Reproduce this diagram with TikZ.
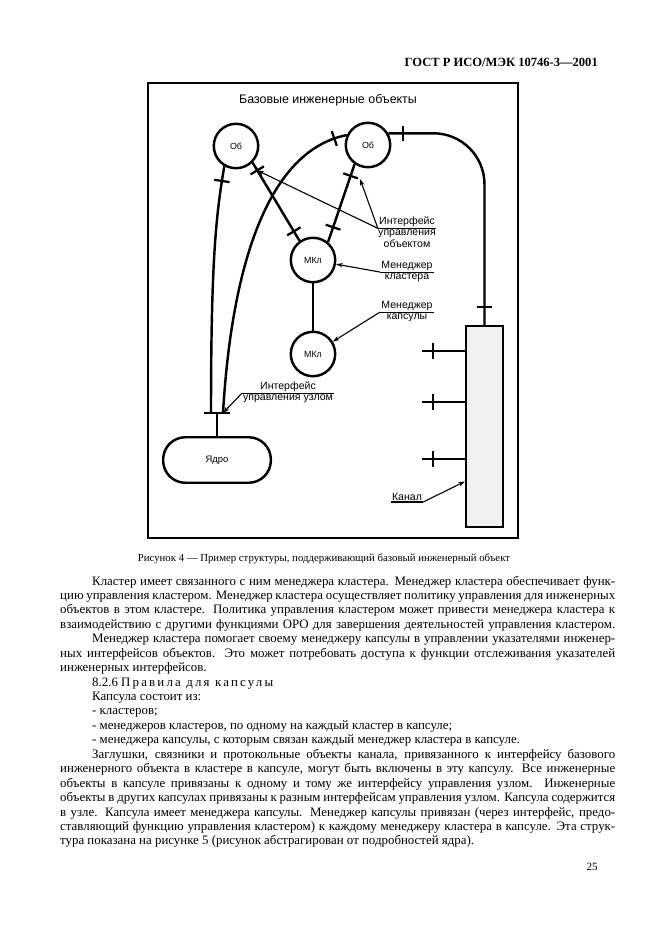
\documentclass[tikz,border=0pt]{standalone}
\usepackage{fontspec}
\setmainfont{Liberation Serif}
\newfontfamily\schemefont{Liberation Sans}
\usetikzlibrary{arrows.meta,calc,decorations.markings,positioning}

\tikzset{
  frame/.style={line width=2.4pt},
  link/.style={line width=2.2pt},
  obj/.style={circle, draw, line width=2.2pt, minimum size=40pt, inner sep=0pt, font=\schemefont\fontsize{8}{9}\selectfont},
  cutat/.style={postaction={decorate, decoration={markings, mark=at position #1 with {\draw[line width=2pt] (0pt,-7pt) -- (0pt,7pt);}}}},
  lead/.style={line width=1pt, -{Stealth[length=6pt,width=4pt]}},
  note/.style={font=\schemefont\fontsize{9.5}{11}\selectfont, inner sep=1pt, align=center},
  body/.style={anchor=base west, inner sep=0pt, font=\fontsize{11.6}{13}\selectfont},
}

\begin{document}
\begin{tikzpicture}[x=0.9006pt, y=-0.9006pt]
\useasboundingbox (0,0) rectangle (661,936);

% header
\node[anchor=base east, inner sep=0pt, font=\bfseries\fontsize{11.3}{13}\selectfont] (head) at (598,66) {ГОСТ Р ИСО/МЭК 10746-3—2001};

% scheme
\draw[frame] (148,83) rectangle (518,538);
\node[font=\schemefont\fontsize{11.2}{13}\selectfont] (title) at (328,100) {Базовые инженерные объекты};

\node[obj] (obL) at (236,146) {Об};
\node[obj] (obR) at (368,145) {Об};
\node[obj] (mkl) at (313,260) {МКл};
\node[obj] (mkp) at (313,354) {МКл};
\node[draw, link, rounded corners=20pt, minimum width=97pt, minimum height=41pt, font=\schemefont\fontsize{8.5}{10}\selectfont] (core) at (217,460) {Ядро};
\node[draw, link, fill=gray!12, minimum width=33pt, minimum height=181pt, inner sep=0pt] (chan) at (484.5,426.5) {};

% node management interface
\coordinate (nifA) at (204,413);
\coordinate (nifB) at (230,413);
\coordinate (nifL) at (211,413);
\coordinate (nifR) at (223,413);
\draw[link] (nifA) -- (nifB);
\draw[link] (core) -- (core |- nifA);

\draw[link, cutat=0.06] (obL.240) .. controls (216,215) and (211,260) .. (nifL);
\draw[link, cutat=0.96] (nifR) .. controls (232,260) and (270,150) .. (obR.155);
\draw[link, cutat=0.1, cutat=0.88] (obL.315) -- coordinate[pos=0.1] (tipA) (mkl.125);
\draw[link, cutat=0.15, cutat=0.81] (obR.235) -- (mkl.50);
\draw[link] (mkl) -- (mkp);
\draw[link, rounded corners=46pt, cutat=13pt, cutat=-16pt] (obR.30) -- (chan.north |- obR.30) -- (chan.north);
\foreach \f/\n in {0.13/1,0.38/2,0.66/3}{
  \coordinate (stub\n) at ($(chan.north west)!\f!(chan.south west)$);
  \draw[link, cutat=0.74] (stub\n) -- ++(-43,0);
}

% callouts
\coordinate (tipB) at (360,179);
\node[note] (ifoA) at (407,222) {Интерфейс};
\node[note, below=0pt of ifoA] (ifoB) {управления\\объектом};
\draw[line width=1pt] (ifoA.south west) -- (ifoA.south east);
\draw[lead] (ifoA.south west) -- (tipA);
\draw[lead] (ifoA.south west) -- (tipB);

\node[note] (mklA) at (407,266) {Менеджер};
\node[note, below=0pt of mklA] (mklB) {кластера};
\draw[line width=1pt] (mklA.south west) -- (mklA.south east);
\draw[lead] (mklA.south west) -- (mkl);

\node[note] (mkpA) at (407,306) {Менеджер};
\node[note, below=0pt of mkpA] (mkpB) {капсулы};
\draw[line width=1pt] (mkpA.south west) -- (mkpA.south east);
\draw[lead] (mkpA.south west) -- (mkp);

\node[note] (nifT) at (288,387) {Интерфейс};
\node[note, below=0pt of nifT] (nifU) {управления узлом};
\draw[line width=1pt] (nifU.north west) -- (nifU.north east);
\draw[lead] (nifU.north west) -- (nifR);

\node[note] (chanT) at (407,497) {Канал};
\draw[line width=1pt] (chanT.south west) -- (chanT.south east);
\draw[lead] (chanT.south east) -- ($(chan.south west)!0.23!(chan.north west)$);

% caption and text
\node[anchor=base, inner sep=0pt, font=\fontsize{9.7}{12}\selectfont] (caption) at (324,561) {Рисунок 4 — Пример структуры, поддерживающий базовый инженерный объект};

\foreach \x/\j/\t [count=\i] in {
  92/s/{Кластер имеет связанного с ним менеджера кластера. Менеджер кластера обеспечивает функ-},
  60/s/{цию управления кластером. Менеджер кластера осуществляет политику управления для инженерных},
  60/s/{объектов в этом кластере. Политика управления кластером может привести менеджера кластера к},
  60/s/{взаимодействию с другими функциями ОРО для завершения деятельностей управления кластером.},
  92/s/{Менеджер кластера помогает своему менеджеру капсулы в управлении указателями инженер-},
  60/s/{ных интерфейсов объектов. Это может потребовать доступа к функции отслеживания указателей},
  60/l/{инженерных интерфейсов.},
  92/l/{8.2.6 {\addfontfeature{LetterSpace=17}Правила для капсулы}},
  92/l/{Капсула состоит из:},
  92/l/{- кластеров;},
  92/l/{- менеджеров кластеров, по одному на каждый кластер в капсуле;},
  92/l/{- менеджера капсулы, с которым связан каждый менеджер кластера в капсуле.},
  92/s/{Заглушки, связники и протокольные объекты канала, привязанного к интерфейсу базового},
  60/s/{инженерного объекта в кластере в капсуле, могут быть включены в эту капсулу. Все инженерные},
  60/s/{объекты в капсуле привязаны к одному и тому же интерфейсу управления узлом. Инженерные},
  60/s/{объекты в других капсулах привязаны к разным интерфейсам управления узлом. Капсула содержится},
  60/s/{в узле. Капсула имеет менеджера капсулы. Менеджер капсулы привязан (через интерфейс, предо-},
  60/s/{ставляющий функцию управления кластером) к каждому менеджеру кластера в капсуле. Эта струк-},
  60/l/{тура показана на рисунке 5 (рисунок абстрагирован от подробностей ядра).}}{
  \pgfmathsetlengthmacro\w{(615-\x)*0.9006pt}
  \node[body] (line\i) at (\x, 585+\i*14.44-14.44) {\makebox[\w][\j]{\t}};
}

\node[anchor=base east, inner sep=0pt, font=\fontsize{10}{12}\selectfont] (page) at (598,870) {25};
\end{tikzpicture}
\end{document}
